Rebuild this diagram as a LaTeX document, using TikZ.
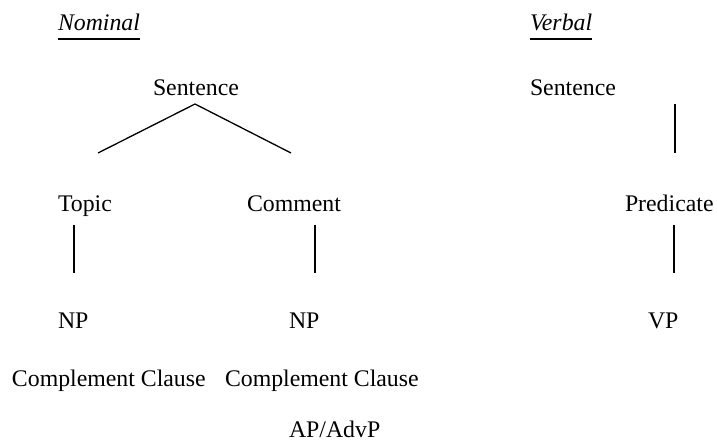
\documentclass[tikz,border=0pt]{standalone}
\usepackage{fontspec}
\setmainfont{Liberation Serif}
\begin{document}
\begin{tikzpicture}[x=1pt,y=-1pt,
  lbl/.style={anchor=base west,inner sep=0pt,outer sep=0pt,font=\fontsize{23.8}{28}\selectfont},
  ttl/.style={lbl,font=\fontsize{23.8}{28}\selectfont\itshape},
  edge/.style={line width=1.3pt,line cap=butt}]
\useasboundingbox (0,0) rectangle (717,443);
% titles
\node[ttl] (nom) at (58,31) {Nominal};
\node[ttl] (verb) at (530,31) {Verbal};
\draw[line width=1.4pt] ([yshift=-8pt]nom.base west) -- ([yshift=-8pt]nom.base east);
\draw[line width=1.4pt] ([yshift=-8pt]verb.base west) -- ([yshift=-8pt]verb.base east);
% nominal tree
\node[lbl] (s1) at (153,96) {Sentence};
\node[lbl] (topic) at (58,212) {Topic};
\node[lbl] (comment) at (247,212) {Comment};
\node[lbl] (np1) at (58,329) {NP};
\node[lbl] (np2) at (289,329) {NP};
\node[lbl] (cc1) at (12,386) {Complement Clause};
\node[lbl] (cc2) at (225,386) {Complement Clause};
\node[lbl,text depth=0pt] (ap) at (289,437) {AP/AdvP};
% verbal tree
\node[lbl] (s2) at (530,96) {Sentence};
\node[lbl] (pred) at (625,212) {Predicate};
\node[lbl] (vp) at (648,329) {VP};
% line ends
\coordinate (apex) at (195,104);
\coordinate (le) at (98,153);
\coordinate (re) at (291,153);
\coordinate (t1) at (74,225); \coordinate (t2) at (74,273);
\coordinate (c1) at (315,225); \coordinate (c2) at (315,273);
\coordinate (v1) at (675,104); \coordinate (v2) at (675,153);
\coordinate (p1) at (674,225); \coordinate (p2) at (674,273);
\draw[edge] (le) -- (apex) -- (re);
\draw[edge] (t1) -- (t2);
\draw[edge] (c1) -- (c2);
\draw[edge] (v1) -- (v2);
\draw[edge] (p1) -- (p2);
\end{tikzpicture}
\end{document}
